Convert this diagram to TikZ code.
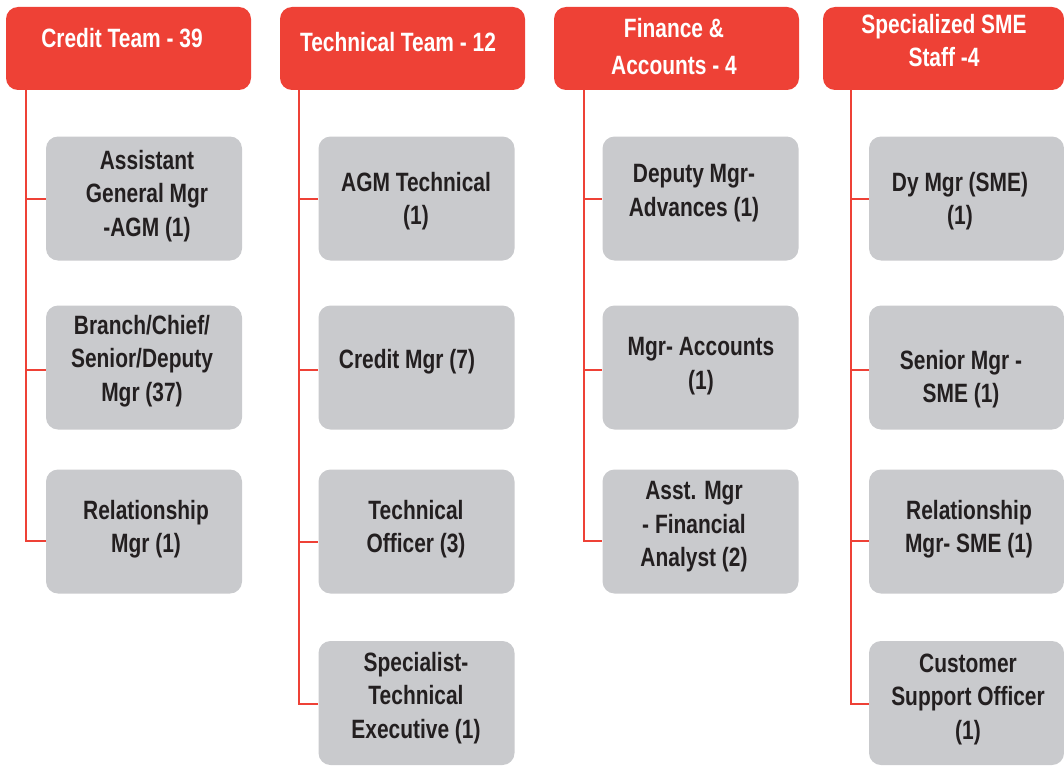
\documentclass[tikz,border=0pt]{standalone}
\usepackage{fontspec}
\setmainfont{Liberation Sans}[FakeStretch=0.79,UprightFont=* Bold]
\definecolor{teamred}{HTML}{EE4136}
\definecolor{cellgray}{HTML}{C9CACD}
\definecolor{ink}{HTML}{231F20}
\begin{document}
\begin{tikzpicture}[x=1pt,y=-1pt,
  head/.style={fill=teamred,draw=none,rounded corners=12pt,minimum width=245pt,minimum height=83pt,inner sep=0pt},
  headtxt/.style={text=white,align=center,inner sep=0pt,font=\fontsize{26.5}{33}\selectfont},
  cell/.style={fill=cellgray,draw=none,rounded corners=12pt,minimum width=196pt,minimum height=124pt,inner sep=0pt},
  celltxt/.style={text=ink,align=center,inner sep=0pt,font=\fontsize{26.5}{33.5}\selectfont},
  conn/.style={draw=teamred,line width=2pt}]
\useasboundingbox (0,0) rectangle (1064,765);
\clip (0,0) rectangle (1064,765);

% team headers
\node[head] (h1) at (128.5,48.5) {};
\node[head] (h2) at (402.5,48.5) {};
\node[head] (h3) at (676.5,48.5) {};
\node[head,minimum width=241pt] (h4) at (943.5,48.5) {};
\node[headtxt] (ht1) at (122,38) {Credit Team - 39};
\node[headtxt] (ht2) at (398,42) {Technical Team - 12};
\node[headtxt] (ht3) at (674,47) {Finance \&\\[4pt] Accounts - 4};
\node[headtxt] (ht4) at (944,40.5) {Specialized SME\\ Staff -4};

% spine start points below each header
\coordinate (v1) at (26,90);
\coordinate (v2) at (299,90);
\coordinate (v3) at (584,90);
\coordinate (v4) at (851,90);

% Credit Team
\node[cell] (c11) at (144,198.5) {};
\node[cell] (c12) at (144,367.5) {};
\node[cell] (c13) at (144,531.5) {};
\node[celltxt] (t11) at (147,196) {Assistant\\ General Mgr\\ -AGM (1)};
\node[celltxt] (t12) at (142,361) {Branch/Chief/\\ Senior/Deputy\\ Mgr (37)};
\node[celltxt] (t13) at (146,529) {Relationship\\ Mgr (1)};

% Technical Team
\node[cell] (c21) at (416.5,198.5) {};
\node[cell] (c22) at (416.5,367.5) {};
\node[cell] (c23) at (416.5,531.5) {};
\node[cell] (c24) at (416.5,703) {};
\node[celltxt] (t21) at (416,201) {AGM Technical\\ (1)};
\node[celltxt] (t22) at (407,362) {Credit Mgr (7)};
\node[celltxt] (t23) at (416,529) {Technical\\ Officer (3)};
\node[celltxt] (t24) at (416,698) {Specialist-\\ Technical\\ Executive (1)};

% Finance & Accounts
\node[cell] (c31) at (700.5,198.5) {};
\node[cell] (c32) at (700.5,367.5) {};
\node[cell] (c33) at (700.5,531.5) {};
\node[celltxt] (t31) at (694,193) {Deputy Mgr-\\ Advances (1)};
\node[celltxt] (t32) at (701,366) {Mgr- Accounts\\ (1)};
\node[celltxt] (t33) at (694,527) {Asst. Mgr\\ - Financial\\ Analyst (2)};

% Specialized SME Staff
\node[cell,minimum width=195pt] (c41) at (966.5,198.5) {};
\node[cell,minimum width=195pt] (c42) at (966.5,367.5) {};
\node[cell,minimum width=195pt] (c43) at (966.5,531.5) {};
\node[cell,minimum width=195pt] (c44) at (966.5,703) {};
\node[celltxt] (t41) at (960,201) {Dy Mgr (SME)\\ (1)};
\node[celltxt] (t42) at (961,379) {Senior Mgr -\\ SME (1)};
\node[celltxt] (t43) at (969,529) {Relationship\\ Mgr- SME (1)};
\node[celltxt] (t44) at (968,699) {Customer\\ Support Officer\\ (1)};

% connectors
\draw[conn] (v1) |- (c11.west);
\draw[conn] (v1) |- ([yshift=-2pt]c12.west);
\draw[conn] (v1) |- ([yshift=-9.5pt]c13.west);

\draw[conn] (v2) |- (c21.west);
\draw[conn] (v2) |- ([yshift=-2pt]c22.west);
\draw[conn] (v2) |- ([yshift=-10pt]c23.west);
\draw[conn] (v2) |- ([yshift=-1pt]c24.west);

\draw[conn] (v3) |- (c31.west);
\draw[conn] (v3) |- ([yshift=-2pt]c32.west);
\draw[conn] (v3) |- ([yshift=-9.5pt]c33.west);

\draw[conn] (v4) |- (c41.west);
\draw[conn] (v4) |- ([yshift=-2pt]c42.west);
\draw[conn] (v4) |- ([yshift=-9.5pt]c43.west);
\draw[conn] (v4) |- ([yshift=-1pt]c44.west);
\end{tikzpicture}
\end{document}
